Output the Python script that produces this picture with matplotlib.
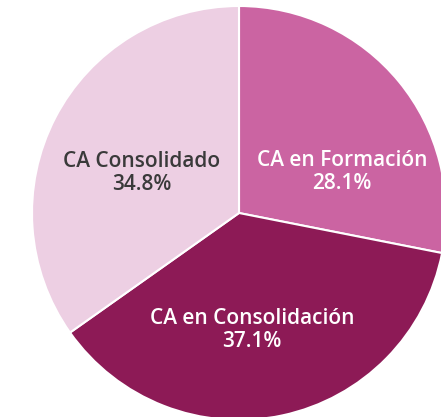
import matplotlib
matplotlib.use("Agg")
import matplotlib.pyplot as plt

categories = ["CA en Formación", "CA en Consolidación", "CA Consolidado"]
values = [28.1, 37.1, 34.8]
colors = ["#CB64A2", "#8D1A56", "#EDCFE3"]
text_colors = ["white", "white", "#3a3a3a"]
# label centres in pixel coordinates of the image
label_px = [(342, 172), (252, 330), (142, 173)]

W, H = 441, 417
cx, cy, R = 239, 213, 207

fig = plt.figure(figsize=(W / 100, H / 100), dpi=100)
ax = fig.add_axes([0, 0, 1, 1])
ax.pie(values, colors=colors, startangle=90, counterclock=False,
       radius=1.0, center=(0, 0),
       wedgeprops=dict(edgecolor="white", linewidth=1.5))
ax.set_xlim(-cx / R, (W - cx) / R)
ax.set_ylim(-(H - cy) / R, cy / R)
ax.set_aspect("equal")
ax.axis("off")

for cat, v, tc, (px, py) in zip(categories, values, text_colors, label_px):
    ax.text((px - cx) / R, (cy - py) / R, f"{cat}\n{v:.1f}%",
            ha="center", va="center", color=tc, fontsize=15,
            family="Open Sans", fontweight="semibold", linespacing=1.08)

fig.savefig("out.png", dpi=100)
